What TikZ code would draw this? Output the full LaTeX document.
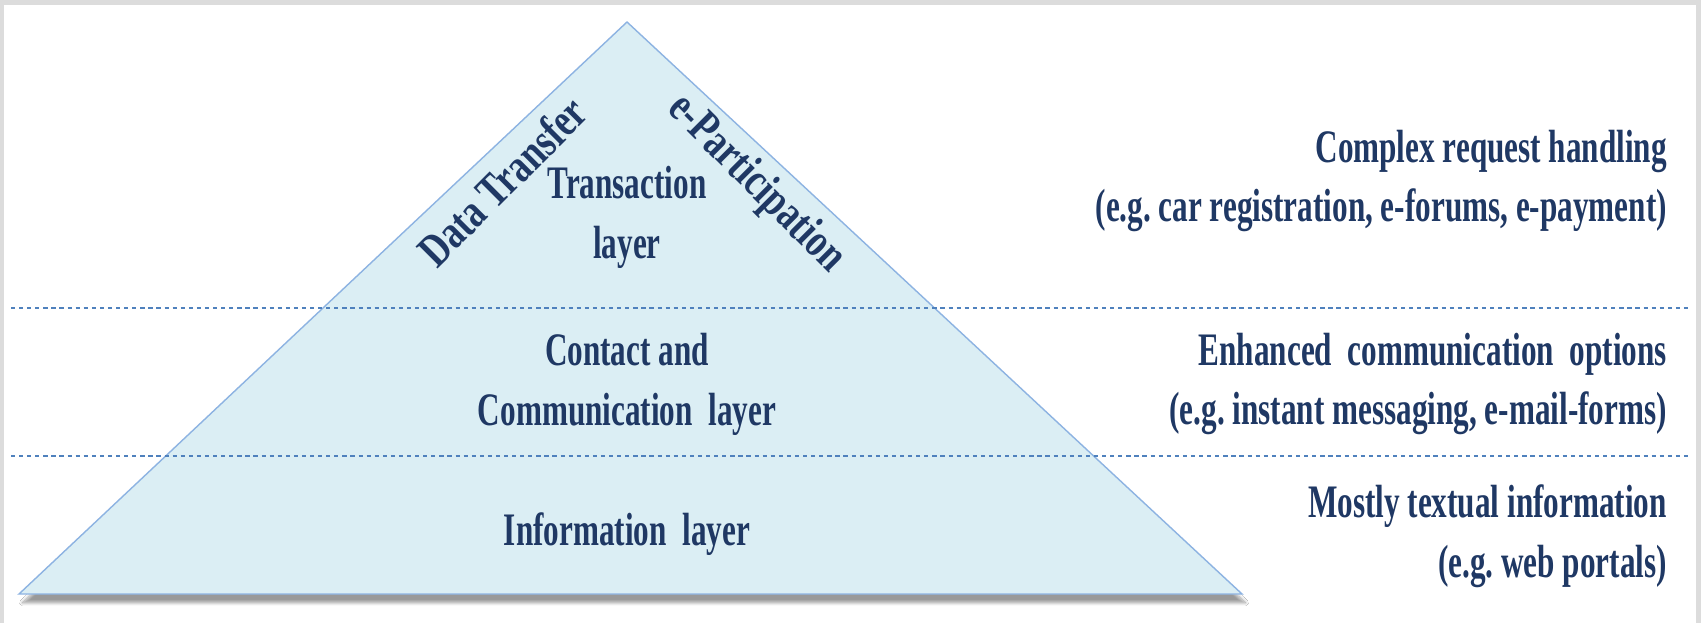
\documentclass[tikz,border=0pt]{standalone}
\usepackage{xcolor}
\usepackage{fontspec}
\usepackage{tikz}
\usetikzlibrary{shadows.blur}
\newfontfamily\narrowfont{Liberation Serif}[FakeStretch=0.67]
\newfontfamily\tiltfont{Liberation Serif}[FakeStretch=0.76]
\definecolor{inkblue}{HTML}{1F3864}
\definecolor{pyrfill}{HTML}{DBEEF4}
\definecolor{pyredge}{HTML}{8DB3E2}
\definecolor{dotblue}{HTML}{4F81BD}
\definecolor{framegray}{HTML}{DCDCDC}

\begin{document}
\begin{tikzpicture}[x=0.02cm, y=-0.02cm,
             lbl/.style={draw=none, text=inkblue, align=center,
               font=\narrowfont\bfseries\fontsize{26.5}{34}\selectfont},
             side/.style={lbl, align=right, anchor=east},
             slant/.style={lbl, font=\tiltfont\bfseries\fontsize{27}{34}\selectfont},
             layerline/.style={dotblue, line width=1.4pt, dash pattern=on 2.4pt off 2.2pt}]
             \useasboundingbox (0,0) rectangle (1701,623);
             \fill[framegray] (0,0) rectangle (1701,623);
             \fill[white] (4,5) rectangle (1696,623);

             \coordinate (apex) at (627,22);
             \coordinate (baseL) at (19,594);
             \coordinate (baseR) at (1242,594);
             \filldraw[fill=pyrfill, draw=pyredge, line width=.8pt,
               blur shadow={shadow xshift=2pt, shadow yshift=-5pt, shadow blur steps=8}]
               (apex) -- (baseR) -- (baseL) -- cycle;

             \coordinate (topL) at (11,308);
             \coordinate (topR) at (1688,308);
             \coordinate (lowL) at (11,456);
             \coordinate (lowR) at (1688,456);
             \draw[layerline] (topL) -- (topR);
             \draw[layerline] (lowL) -- (lowR);

             \node[lbl] (trans) at (627,217) {Transaction\\layer};
             \node[slant, rotate=45] (transfer) at (502,181) {Data Transfer};
             \node[slant, rotate=-45] (particip) at (756,184) {e-Participation};
             \node[lbl] (contact) at (627,384) {Contact and\\Communication\ \ layer};
             \node[lbl] (info) at (627,534) {Information\ \ layer};

             \node[side] (complex) at (1673,181) {Complex request handling\\(e.g.\ car registration, e-forums, e-payment)};
             \node[side] (enhanced) at (1673,384) {Enhanced\ \ communication\ \ options\\(e.g.\ instant messaging, e-mail-forms)};
             \node[side] (mostly) at (1673,536) {Mostly textual information\\(e.g.\ web portals)};
\end{tikzpicture}
\end{document}
